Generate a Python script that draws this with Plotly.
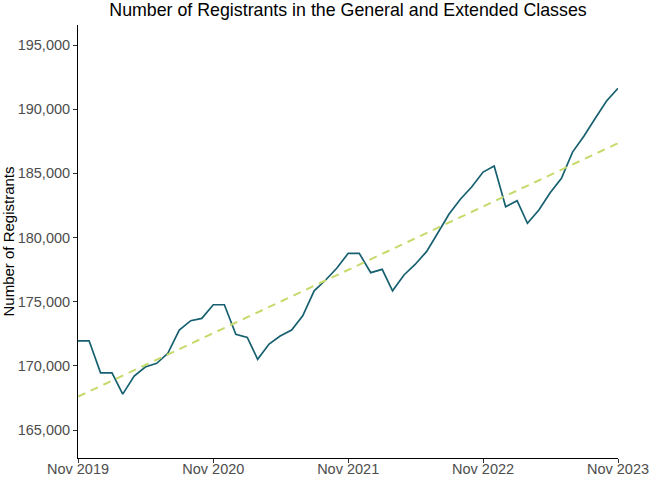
import plotly.graph_objects as go
import pandas as pd

# ---- data ----
start_month = "2019-11-01"
registrants = [
    171950, 171950, 169460, 169460, 167800, 169200, 169910, 170200, 170980, 172790,
    173520, 173700, 174760, 174760, 172460, 172220, 170510, 171700, 172330, 172790,
    173900, 175850, 176690, 177600, 178770, 178770, 177260, 177520, 175850, 177080,
    177900, 178900, 180330, 181830, 183000, 183940, 185100, 185580, 182400, 182870,
    181110, 182140, 183470, 184610, 186660, 187910, 189310, 190640, 191630,
]
dates = pd.date_range(start_month, periods=len(registrants), freq="MS")

trend_dates = ["2019-11-01", "2023-11-01"]
trend_values = [167600, 187350]

x_tick_vals = ["2019-11-01", "2020-11-01", "2021-11-01", "2022-11-01", "2023-11-01"]
x_tick_text = ["Nov 2019", "Nov 2020", "Nov 2021", "Nov 2022", "Nov 2023"]
y_tick_vals = [165000, 170000, 175000, 180000, 185000, 190000, 195000]
y_tick_text = ["165,000", "170,000", "175,000", "180,000", "185,000", "190,000", "195,000"]

fig = go.Figure()
fig.add_trace(go.Scatter(
    x=dates, y=registrants, mode="lines",
    line=dict(color="#17606F", width=1.7),
    showlegend=False, hoverinfo="x+y",
))
fig.add_trace(go.Scatter(
    x=trend_dates, y=trend_values, mode="lines",
    line=dict(color="#C6DA6B", width=2, dash="8px,6px"),
    showlegend=False,
))

fig.update_layout(
    width=672, height=480,
    margin=dict(l=78, r=54, t=25, b=22),
    paper_bgcolor="white", plot_bgcolor="white",
    font=dict(family="Liberation Sans, Arial, sans-serif", color="#4D4D4D", size=14.5),
    title=dict(
        text="Number of Registrants in the General and Extended Classes",
        x=0.5, xref="paper", xanchor="center",
        y=0.993, yref="container", yanchor="top", pad=dict(t=0, b=0),
        font=dict(size=17.8, color="black"),
    ),
    xaxis=dict(
        range=["2019-11-01", "2023-11-01"],
        tickvals=x_tick_vals, ticktext=x_tick_text,
        showgrid=False, zeroline=False, automargin=False,
        showline=True, linecolor="black", linewidth=1,
        ticks="outside", ticklen=4, tickcolor="#333333", tickwidth=1,
        ticklabelstandoff=-6,
    ),
    yaxis=dict(
        range=[162820, 196560],
        tickvals=y_tick_vals, ticktext=y_tick_text,
        showgrid=False, zeroline=False, automargin=False,
        showline=True, linecolor="black", linewidth=1,
        ticks="outside", ticklen=4, tickcolor="#333333", tickwidth=1,
        title=dict(text="Number of Registrants", font=dict(size=15, color="black"), standoff=4),
    ),
)

fig.write_html("out.html", config={"displayModeBar": False},
               post_script="document.body.style.margin='0';")
